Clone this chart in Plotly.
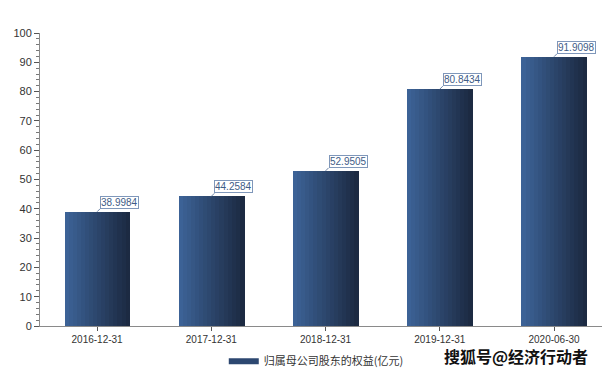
import plotly.graph_objects as go

categories = ["2016-12-31", "2017-12-31", "2018-12-31", "2019-12-31", "2020-06-30"]
values = [38.9984, 44.2584, 52.9505, 80.8434, 91.9098]
value_labels = ["38.9984", "44.2584", "52.9505", "80.8434", "91.9098"]
series_name = "归属母公司股东的权益(亿元)"
y_ticks = [0, 10, 20, 30, 40, 50, 60, 70, 80, 90, 100]

BAR_W = 0.57
N = 16
c0 = (60, 98, 150)
c1 = (28, 42, 66)

fig = go.Figure()
for i in range(N):
    t = i / (N - 1)
    col = "rgb(%d,%d,%d)" % tuple(round(a + (b - a) * t) for a, b in zip(c0, c1))
    fig.add_trace(go.Bar(
        x=categories, y=values,
        width=[BAR_W / N * 1.15] * len(values),
        offset=[-BAR_W / 2 + i * BAR_W / N] * len(values),
        marker=dict(color=col, line=dict(width=0)),
        showlegend=False, hoverinfo="skip",
    ))

fig.add_trace(go.Scatter(
    x=[None], y=[None], mode="lines", name=series_name,
    line=dict(color="#2c4770", width=6), showlegend=True,
))

for c, v, lab in zip(categories, values, value_labels):
    fig.add_annotation(
        x=c, y=v, xref="x", yref="y", text=lab,
        showarrow=True, arrowhead=0, arrowwidth=1, arrowcolor="#6f86a8",
        ax=3, ay=-3, xanchor="left", yanchor="bottom",
        font=dict(family="Arial, Liberation Sans", size=10, color="#3e5c86"),
        bordercolor="#7f97ba", borderwidth=1, borderpad=0, bgcolor="rgba(255,255,255,0.9)",
    )

fig.add_annotation(
    x=0.979, y=-0.104, xref="paper", yref="paper", xanchor="right", yanchor="middle",
    text="<b>搜狐号@经济行动者</b>", showarrow=False,
    font=dict(family="Noto Sans CJK SC", size=16, color="#111111"),
)

fig.update_layout(
    width=603, height=372,
    margin=dict(l=40, r=1, t=33, b=46, autoexpand=False),
    paper_bgcolor="white", plot_bgcolor="white",
    barmode="overlay", bargap=0,
    font=dict(family="Arial, Liberation Sans", size=11, color="#333333"),
    legend=dict(orientation="h", x=0.327, xanchor="left", y=-0.12, yanchor="middle",
                font=dict(family="Noto Sans CJK SC", size=11, color="#333333"),
                itemwidth=30, bgcolor="rgba(0,0,0,0)"),
)
fig.update_xaxes(
    type="category", range=[-0.5, 4.42], automargin=False,
    showline=True, linecolor="#8a8a8a", linewidth=1,
    ticks="outside", ticklen=4, tickcolor="#555555",
    tickfont=dict(size=10, color="#333333"), showgrid=False, zeroline=False,
)
fig.update_yaxes(
    range=[0, 100], tickvals=y_ticks, automargin=False,
    showline=True, linecolor="#8a8a8a", linewidth=1,
    ticks="outside", ticklen=5, tickcolor="#555555",
    minor=dict(dtick=2, ticks="outside", ticklen=3, tickcolor="#777777", showgrid=False),
    tickfont=dict(size=11, color="#333333"), showgrid=False, zeroline=False,
)

fig.write_html("out.html", config={"displayModeBar": False},
               post_script="document.body.style.margin='0';document.body.style.overflow='hidden';")
